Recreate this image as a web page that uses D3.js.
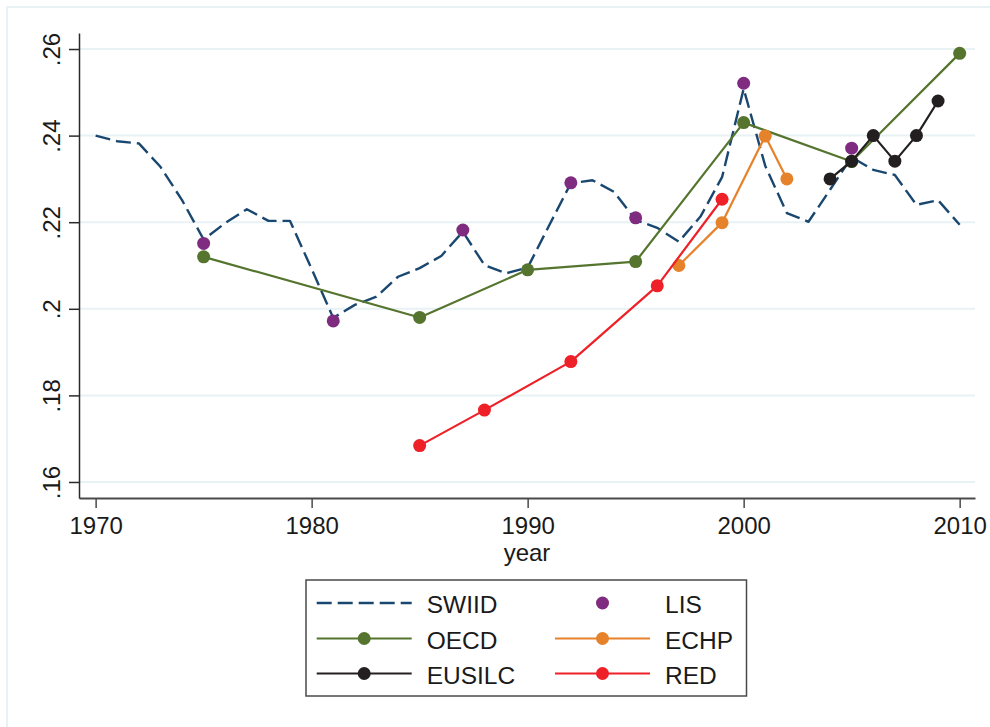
<!DOCTYPE html>
<html>
<head>
<meta charset="utf-8">
<script src="https://cdn.jsdelivr.net/npm/d3@7"></script>
<style>
  html, body { margin: 0; padding: 0; background: #fff; }
  svg { display: block; }
  text { font-family: "Liberation Sans", Arial, sans-serif; fill: #1a1a1a; }
</style>
</head>
<body>
<svg id="chart" width="990" height="727"></svg>
<script>
// Gini estimates by source
const swiidYears = [1970,1971,1972,1973,1974,1975,1976,1977,1978,1979,
                    1980,1981,1982,1983,1984,1985,1986,1987,1988,1989,
                    1990,1991,1992,1993,1994,1995,1996,1997,1998,1999,
                    2000,2001,2002,2003,2004,2005,2006,2007,2008,2009,2010];
const swiidGini  = [.2400,.2387,.2382,.2328,.2251,.2160,.2198,.2230,.2203,.2203,
                    .2092,.1979,.2009,.2028,.2074,.2094,.2122,.2178,.2101,.2082,
                    .2095,.2193,.2290,.2297,.2270,.2205,.2187,.2155,.2213,.2304,
                    .2508,.2330,.2221,.2201,.2275,.2350,.2321,.2309,.2240,.2251,.2194];

const lisYears = [1975,1981,1987,1992,1995,2000,2005];
const lisGini  = [.2151,.1972,.2182,.2291,.2210,.2521,.2371];

const oecdYears = [1975,1985,1990,1995,2000,2005,2010];
const oecdGini  = [.2120,.1980,.2090,.2109,.2430,.2340,.2590];

const echpYears = [1997,1999,2001,2002];
const echpGini  = [.2100,.2199,.2399,.2300];

const eusilcYears = [2004,2005,2006,2007,2008,2009];
const eusilcGini  = [.2300,.2341,.2400,.2341,.2400,.2480];

const redYears = [1985,1988,1992,1996,1999];
const redGini  = [.1684,.1766,.1878,.2053,.2253];

const xTicks = [1970,1980,1990,2000,2010];
const yTicks = [.16,.18,.20,.22,.24,.26];
const yTickLabels = [".16",".18",".2",".22",".24",".26"];

const seriesNames = ["SWIID","LIS","OECD","ECHP","EUSILC","RED"];
const seriesColors = {
  SWIID: "#1a476f", LIS: "#7e2b80", OECD: "#55752f",
  ECHP: "#e5822a", EUSILC: "#231f20", RED: "#ee2028"
};

const svg = d3.select("#chart");

// outer graph frame
svg.append("rect")
  .attr("x", 7).attr("y", 7).attr("width", 1000).attr("height", 740)
  .attr("fill", "none").attr("stroke", "#e8f1f4").attr("stroke-width", 2);

const x = d3.scaleLinear().domain([1969.23, 2010.71]).range([79, 975]);
const y = d3.scaleLinear().domain([.1563, .2637]).range([498, 33]);

// horizontal grid
svg.append("g").selectAll("line").data(yTicks).join("line")
  .attr("x1", 79).attr("x2", 975)
  .attr("y1", d => y(d)).attr("y2", d => y(d))
  .attr("stroke", "#e8f1f4").attr("stroke-width", 2);

// axes
const xAxis = svg.append("g").attr("transform", "translate(0,498)")
  .call(d3.axisBottom(x).tickValues(xTicks).tickFormat(d3.format("d"))
        .tickSize(10).tickSizeOuter(0).tickPadding(9));
xAxis.select(".domain").attr("stroke", "#4a4a4a").attr("stroke-width", 2);
xAxis.selectAll(".tick line").attr("stroke", "#4a4a4a").attr("stroke-width", 1.5);
xAxis.selectAll(".tick text").attr("font-size", 24).attr("fill", "#1a1a1a")
  .attr("font-family", "Liberation Sans, Arial, sans-serif");

const yAxis = svg.append("g").attr("transform", "translate(79,0)")
  .call(d3.axisLeft(y).tickValues(yTicks).tickFormat((d, i) => yTickLabels[i])
        .tickSize(10).tickSizeOuter(0));
yAxis.select(".domain").attr("stroke", "#2a2a2a").attr("stroke-width", 1.5);
yAxis.selectAll(".tick line").attr("stroke", "#2a2a2a").attr("stroke-width", 1.5);
yAxis.selectAll(".tick text")
  .attr("font-size", 24).attr("fill", "#1a1a1a")
  .attr("font-family", "Liberation Sans, Arial, sans-serif")
  .attr("x", null).attr("dy", null)
  .attr("text-anchor", "middle")
  .attr("transform", "translate(-19,0) rotate(-90)");

// axis title
svg.append("text")
  .attr("x", (79 + 975) / 2).attr("y", 561)
  .attr("text-anchor", "middle").attr("font-size", 24)
  .text("year");

// series
const line = d3.line().x(d => x(d[0])).y(d => y(d[1]));
const zip = (a, b) => a.map((v, i) => [v, b[i]]);

const data = {
  SWIID: zip(swiidYears, swiidGini),
  LIS: zip(lisYears, lisGini),
  OECD: zip(oecdYears, oecdGini),
  ECHP: zip(echpYears, echpGini),
  EUSILC: zip(eusilcYears, eusilcGini),
  RED: zip(redYears, redGini)
};

const plot = svg.append("g");
seriesNames.forEach(name => {
  const pts = data[name];
  const c = seriesColors[name];
  if (name !== "LIS") {
    plot.append("path").datum(pts)
      .attr("d", line).attr("fill", "none").attr("stroke", c)
      .attr("stroke-width", name === "SWIID" ? 2.4 : 2.2)
      .attr("stroke-dasharray", name === "SWIID" ? "15,6" : null)
      .attr("stroke-linejoin", "round");
  }
  if (name !== "SWIID") {
    plot.append("g").selectAll("circle").data(pts).join("circle")
      .attr("cx", d => x(d[0])).attr("cy", d => y(d[1]))
      .attr("r", 6.5).attr("fill", c);
  }
});

// legend
const lg = svg.append("g");
lg.append("rect").attr("x", 306).attr("y", 580).attr("width", 440.5).attr("height", 116)
  .attr("fill", "#fff").attr("stroke", "#4a4a4a").attr("stroke-width", 1.5);

const colX = [316.7, 555];
const rowY = [603, 638.5, 673.5];
seriesNames.forEach((name, i) => {
  const cx = colX[i % 2], cy = rowY[Math.floor(i / 2)];
  const c = seriesColors[name];
  if (name !== "LIS") {
    lg.append("line").attr("x1", cx).attr("x2", cx + 95)
      .attr("y1", cy).attr("y2", cy)
      .attr("stroke", c).attr("stroke-width", name === "SWIID" ? 2.4 : 2.2)
      .attr("stroke-dasharray", name === "SWIID" ? "15,6" : null);
  }
  if (name !== "SWIID") {
    lg.append("circle").attr("cx", cx + 47.5).attr("cy", cy).attr("r", 6.5).attr("fill", c);
  }
  lg.append("text").attr("x", cx + 110).attr("y", cy + 10)
    .attr("font-size", 24.5).text(name);
});
</script>
</body>
</html>
